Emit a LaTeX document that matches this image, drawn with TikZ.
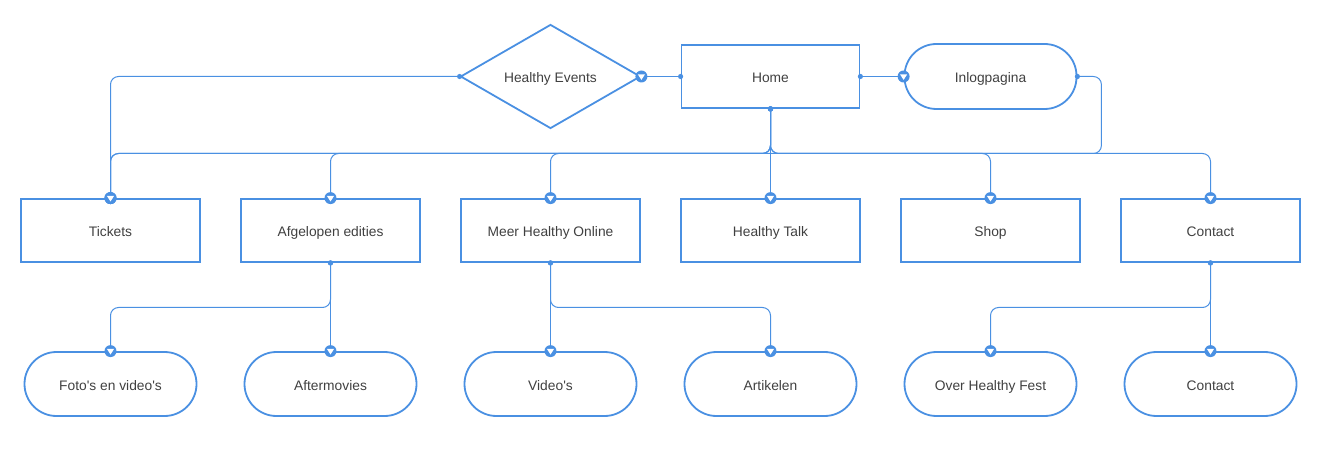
\documentclass[tikz,border=0pt]{standalone}
\usepackage{fontspec}
\setmainfont{Liberation Sans}[Ligatures=TeXOff]
\usetikzlibrary{shapes.geometric,decorations.markings}

\definecolor{lineblue}{RGB}{74,144,226}
\definecolor{textgray}{RGB}{64,64,64}

\tikzset{
  box/.style={rectangle,draw=lineblue,line width=1.8pt,minimum width=179pt,minimum height=63pt,
    text=textgray,font=\fontsize{13.8}{16}\selectfont,text height=13pt,text depth=0pt},
  pill/.style={box,rounded corners=32pt,minimum width=172pt,minimum height=64pt},
  choice/.style={box,diamond,aspect=1.73,inner sep=0pt,minimum width=180pt,minimum height=104pt},
  link/.style={draw=lineblue,line width=1pt,rounded corners=8pt,
    postaction={decorate,decoration={markings,
      mark=at position 0 with {\fill[lineblue] (0,0) circle (2.6pt);},
      mark=at position 1 with {\pgftransformresetnontranslations
        \fill[lineblue] (0,0) circle (6pt);
        \fill[white,sharp corners] (-3.6pt,2.2pt) -- (3.6pt,2.2pt) -- (0,-3.4pt) -- cycle;}}}}
}

\begin{document}
\begin{tikzpicture}[x=1pt,y=-1pt]
			\useasboundingbox (0,0) rectangle (1320,462);

			% top row
			\node [choice] (events) at (550.5,76.5) {Healthy Events};
			\node [box,minimum width=178pt] (home) at (770.5,76.5) {Home};
			\node [pill,minimum height=65pt] (login) at (990.5,76.5) {Inlogpagina};

			% main pages
			\begin{scope}[every node/.style={box}]
				\node (tickets) at (110.5,230.5) {Tickets};
				\node (editions) at (330.5,230.5) {Afgelopen edities};
				\node (online) at (550.5,230.5) {Meer Healthy Online};
				\node (talk) at (770.5,230.5) {Healthy Talk};
				\node (shop) at (990.5,230.5) {Shop};
				\node (contact) at (1210.5,230.5) {Contact};
			\end{scope}

			% sub pages
			\begin{scope}[every node/.style={pill}]
				\node (photos) at (110.5,384) {Foto's en video's};
				\node (movies) at (330.5,384) {Aftermovies};
				\node (videos) at (550.5,384) {Video's};
				\node (articles) at (770.5,384) {Artikelen};
				\node (about) at (990.5,384) {Over Healthy Fest};
				\node (contactpage) at (1210.5,384) {Contact};
			\end{scope}

			\path (home.south) ++(0,44.6) coordinate (bus);

			% links
			\draw [link] (home.west) -- (events.east);
			\draw [link] (home.east) -- (login.west);
			\draw [link] (events.west) -| (tickets.north);
			\draw [link] (home.south) -- (bus) -| (tickets.north);
			\draw [link] (home.south) -- (bus) -| (editions.north);
			\draw [link] (home.south) -- (bus) -| (online.north);
			\draw [link] (home.south) -- (talk.north);
			\draw [link] (home.south) -- (bus) -| (shop.north);
			\draw [link] (home.south) -- (bus) -| (contact.north);
			\draw [link] (login.east) -- ++(24,0) |- (bus) -| (tickets.north);

			\draw [link] (editions.south) -- ++(0,44.6) -| (photos.north);
			\draw [link] (editions.south) -- (movies.north);
			\draw [link] (online.south) -- (videos.north);
			\draw [link] (online.south) -- ++(0,44.6) -| (articles.north);
			\draw [link] (contact.south) -- ++(0,44.6) -| (about.north);
			\draw [link] (contact.south) -- (contactpage.north);
		\end{tikzpicture}
\end{document}
